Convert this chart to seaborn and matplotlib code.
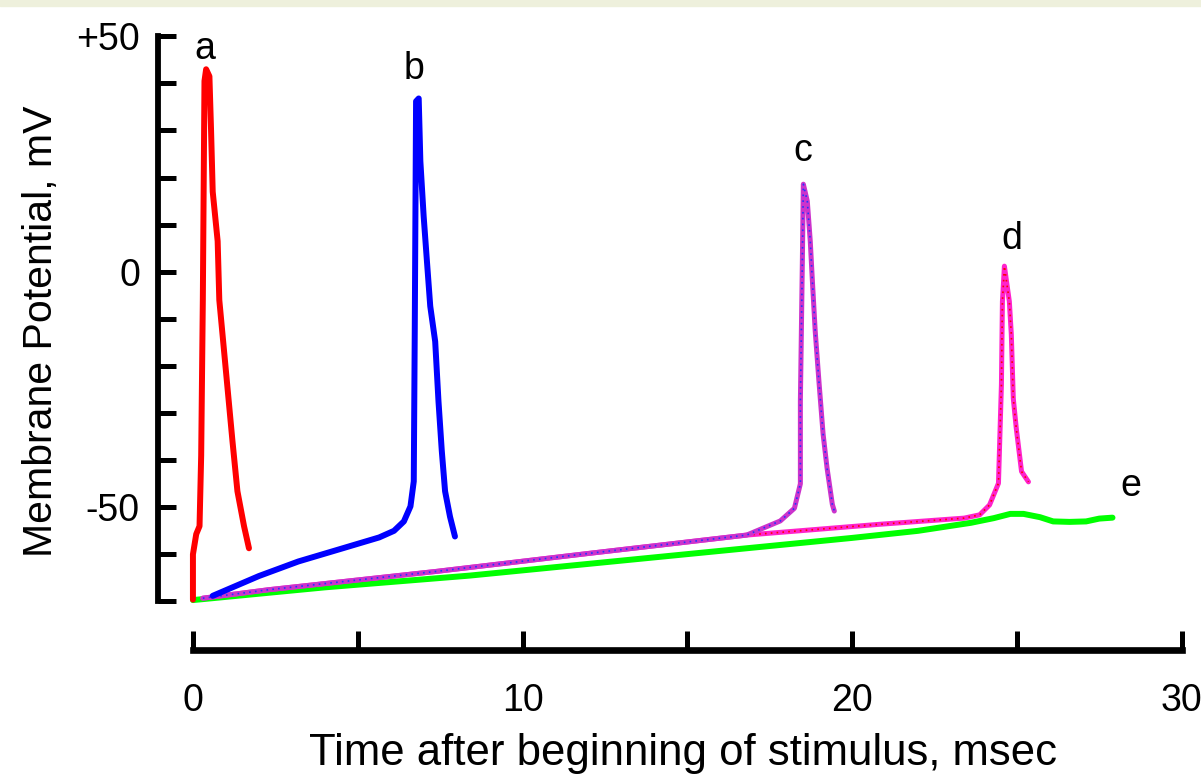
import numpy as np
import pandas as pd
import matplotlib
matplotlib.use("Agg")
import matplotlib.pyplot as plt
import seaborn as sns
from matplotlib.patches import Rectangle

# courbe a : stimulus fort, reponse immediate
a_t = [0.0, 0.0, 0.1, 0.2, 0.25, 0.3, 0.35, 0.4, 0.5, 0.55, 0.6, 0.75, 0.8, 1.0, 1.2, 1.35, 1.55, 1.7]
a_v = [-69.6, -60.0, -55.7, -54.0, -39.0, -6.0, 40.5, 43.0, 41.5, 30.0, 17.0, 6.5, -6.0, -21.0, -36.0, -46.6, -54.0, -58.7]

# courbe b
b_t = [0.6, 2.0, 3.2, 4.45, 5.65, 6.1, 6.4, 6.6, 6.7, 6.73, 6.77, 6.85, 6.9, 7.0, 7.1, 7.2, 7.35, 7.45, 7.55, 7.65, 7.8, 7.95]
b_v = [-68.8, -64.6, -61.5, -58.9, -56.4, -55.0, -53.0, -49.8, -44.5, -12.6, 36.2, 36.8, 23.5, 11.8, 2.2, -7.3, -14.8, -27.5, -38.0, -46.6, -52.0, -56.2]

# partie commune de c et d (sous le seuil)
cd_base_t = [0.3, 2.3, 7.4, 12.0, 16.8]
cd_base_v = [-69.3, -67.5, -63.6, -59.8, -55.9]

c_spike_t = [17.82, 18.25, 18.43, 18.43, 18.49, 18.52, 18.64, 18.73, 18.79, 18.88, 19.0, 19.12, 19.24, 19.4, 19.46]
c_spike_v = [-52.9, -50.2, -45.0, -27.5, 2.2, 18.6, 15.0, 6.5, -1.4, -12.6, -23.9, -34.5, -41.7, -49.4, -50.8]

d_spike_t = [20.85, 23.4, 23.87, 24.17, 24.44, 24.53, 24.56, 24.59, 24.62, 24.77, 24.83, 24.89, 24.98, 25.14, 25.35]
d_spike_v = [-53.6, -52.3, -51.6, -49.5, -44.9, -23.9, -6.3, -2.7, 1.2, -6.3, -13.3, -26.9, -33.2, -42.4, -44.6]

# courbe e : sous le seuil
e_t = [0.0, 4.0, 8.4, 12.6, 16.8, 20.0, 22.0, 23.6, 24.3, 24.8, 25.2, 25.7, 26.1, 26.6, 27.1, 27.5, 27.9]
e_v = [-69.7, -67.0, -64.5, -61.6, -58.7, -56.5, -55.0, -53.3, -52.3, -51.4, -51.4, -52.1, -53.0, -53.1, -53.0, -52.4, -52.2]

labels = ["a", "b", "c", "d", "e"]
label_t = [0.36, 6.71, 18.49, 24.83, 28.46]
label_v = [47.2, 43.0, 25.6, 6.9, -45.5]

sns.set_style("white")
plt.rcParams["font.family"] = ["Liberation Sans", "DejaVu Sans"]
plt.rcParams["text.color"] = "black"
plt.rcParams["axes.labelcolor"] = "black"
plt.rcParams["xtick.color"] = "black"
plt.rcParams["ytick.color"] = "black"

fig = plt.figure(figsize=(12.01, 7.82), dpi=100)
ax = fig.add_axes([158 / 1201, 1 - 650 / 782, 1028 / 1201, 617 / 782])

# bande claire en haut de l'image
fig.patches.append(Rectangle((0, 1 - 6 / 782), 1, 6 / 782, transform=fig.transFigure,
                             color="#eef0dc", zorder=0))

lw = 4.3
sns.lineplot(x=e_t, y=e_v, color="#00ff00", lw=lw, sort=False, estimator=None, ax=ax)

c_t = cd_base_t + c_spike_t
c_v = cd_base_v + c_spike_v
d_t = cd_base_t + d_spike_t
d_v = cd_base_v + d_spike_v

sns.lineplot(x=d_t, y=d_v, color="#ff22cc", lw=3.6, sort=False, estimator=None, ax=ax)
ax.plot(d_t, d_v, color="#ff0000", lw=1.2, ls=(0, (1, 2.5)))
sns.lineplot(x=c_t, y=c_v, color="#cc33cc", lw=3.6, sort=False, estimator=None, ax=ax)
ax.plot(c_t, c_v, color="#2233ff", lw=1.2, ls=(0, (1, 2.5)))

sns.lineplot(x=b_t, y=b_v, color="#0000ff", lw=lw, sort=False, estimator=None, ax=ax)
sns.lineplot(x=a_t, y=a_v, color="#ff0000", lw=lw, sort=False, estimator=None, ax=ax)

for lab, t, v in zip(labels, label_t, label_v):
    ax.text(t, v, lab, fontsize=27, ha="center", va="center", color="black")

ax.set_xlim(-1.06, 30.13)
ax.set_ylim(-80.3, 50.7)

ax.set_xticks(np.arange(0, 31, 5))
ax.set_xticklabels(["0", "", "10", "", "20", "", "30"])
ax.set_yticks(np.arange(-70, 51, 10))
ax.set_yticklabels(["" if v not in (50, 0, -50) else ("+50" if v == 50 else str(v))
                    for v in range(-70, 51, 10)])

sns.despine(ax=ax)
ax.spines["left"].set_bounds(-70, 50)
ax.spines["bottom"].set_bounds(0, 30)
ax.spines["left"].set_linewidth(4.2)
ax.spines["bottom"].set_linewidth(4.8)
ax.spines["left"].set_color("black")
ax.spines["bottom"].set_color("black")
ax.spines["left"].set_capstyle("projecting")
ax.spines["bottom"].set_capstyle("projecting")

ax.tick_params(axis="y", left=True, direction="in", length=13, width=3.6, pad=13,
               labelsize=27, color="black", labelcolor="black")
ax.tick_params(axis="x", bottom=True, direction="in", length=14, width=3.6, pad=24,
               labelsize=27, color="black", labelcolor="black")

ax.set_xlabel("Time after beginning of stimulus, msec", fontsize=31.5)
ax.set_ylabel("Membrane Potential, mV", fontsize=29.5)
ax.xaxis.set_label_coords(0.511, -0.135)
ax.yaxis.set_label_coords(-0.095, 0.517)
ax.xaxis.label.set_va("top")

plt.savefig("out.png", dpi=100)
